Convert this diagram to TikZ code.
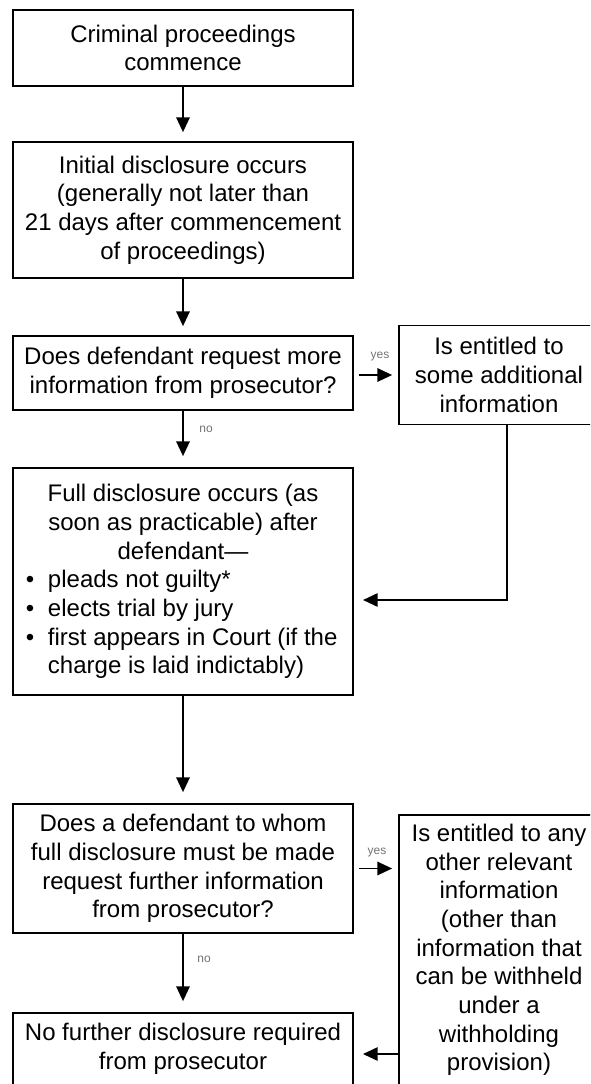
\documentclass[tikz,border=0pt]{standalone}
\usepackage{fontspec}
\setmainfont{Liberation Sans}
\usetikzlibrary{arrows.meta, positioning, calc}
\newcommand{\bul}{\makebox[16.5pt][l]{\textbullet}}
\newcommand{\listline}[1]{\makebox[235.5pt][l]{#1}}
\tikzset{
  stepbox/.style={draw, line width=1.3pt, inner sep=0pt, align=center,
    minimum width=255pt},
  sidebox/.style={stepbox, minimum width=150pt},
  flow/.style={line width=1.3pt, -{Triangle[length=11pt, width=10pt]}},
  answer/.style={font=\fontsize{9}{10}\selectfont, text=black!55, inner sep=0pt},
}

\begin{document}
\begin{tikzpicture}[x=0.75pt, y=-0.75pt, font=\fontsize{18}{21.5}\selectfont]
  \useasboundingbox (0,0) rectangle (590,1084);
  \clip (0,0) rectangle (590,1084);

  % main column
  \node[stepbox, minimum height=57pt] (start) at (183,48)
    {Criminal proceedings\\ commence};
  \node[stepbox, minimum height=102pt] (initial) at (183,210)
    {Initial disclosure occurs\\ (generally not later than\\
     21 days after commencement\\ of proceedings)};
  \node[stepbox, minimum height=55.5pt] (askmore) at (183,373)
    {Does defendant request more\\ information from prosecutor?};
  \node[stepbox, minimum height=170.25pt] (full) at (183,581.5)
    {Full disclosure occurs (as\\ soon as practicable) after\\ defendant---\\
     \listline{\bul pleads not guilty*}\\
     \listline{\bul elects trial by jury}\\
     \listline{\bul first appears in Court (if the}\\
     \listline{\hspace*{16.5pt}charge is laid indictably)}};
  \node[stepbox, minimum height=96.75pt] (askfurther) at (183,868.5)
    {Does a defendant to whom\\ full disclosure must be made\\
     request further information\\ from prosecutor?};
  \node[stepbox, minimum height=54pt] (nofurther) at (183,1049)
    {No further disclosure required\\ from prosecutor};

  % right column
  \node[sidebox, minimum height=74.25pt] (additional) at (499,375)
    {Is entitled to\\ some additional\\ information};
  \node[sidebox, minimum height=202.5pt] (other) at (499,950)
    {Is entitled to any\\ other relevant\\ information\\ (other than\\
     information that\\ can be withheld\\ under a\\ withholding\\ provision)};

  \coordinate (back1) at (363,600);
  \coordinate (back2) at (363,1054);

  % connectors
  \draw[flow, shorten >=6.75pt] (start) -- (initial);
  \draw[flow, shorten >=6.75pt] (initial) -- (askmore);
  \draw[flow, shorten >=8.25pt] (askmore) -- (full);
  \draw[flow, shorten >=8.25pt] (full) -- (askfurther);
  \draw[flow, shorten >=8.25pt] (askfurther) -- (nofurther);
  \draw[flow, shorten <=3.75pt, shorten >=4.5pt]
    (askmore.east |- additional.west) -- (additional.west);
  \draw[flow, shorten <=3.75pt, shorten >=4.5pt]
    (askfurther.east) -- (askfurther.east -| other.west);
  \draw[flow] ([xshift=6pt]additional.south) |- (back1);
  \draw[flow] (other.west |- back2) -- (back2);

  % answers
  \node[answer] (yes1) at (380,357) {yes};
  \node[answer] (no1) at (206,429) {no};
  \node[answer] (yes2) at (377,853) {yes};
  \node[answer] (no2) at (204,959) {no};
\end{tikzpicture}
\end{document}
